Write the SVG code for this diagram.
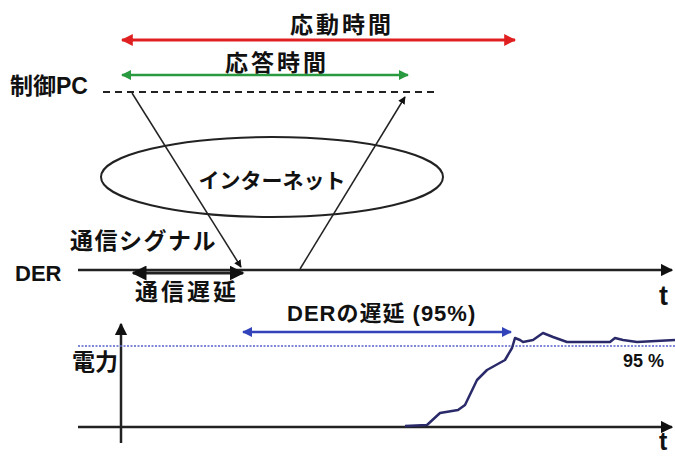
<svg xmlns="http://www.w3.org/2000/svg" width="675" height="457" viewBox="0 0 675 457">
<style>
.t{font-family:"Liberation Sans","Noto Sans CJK JP",sans-serif;font-weight:bold;fill:#111}
.j{font-size:23px;letter-spacing:3px}
.ln{stroke:#222;fill:none}
</style>
<defs>
<marker id="ak" viewBox="0 0 10 10" refX="9" refY="5" markerWidth="5" markerHeight="5" orient="auto-start-reverse"><path d="M0,0L10,5L0,10z" fill="#111"/></marker>
<marker id="ar" viewBox="0 0 10 10" refX="9" refY="5" markerWidth="4" markerHeight="4" orient="auto-start-reverse"><path d="M0,0L10,5L0,10z" fill="#e02020"/></marker>
<marker id="ag" viewBox="0 0 10 10" refX="9" refY="5" markerWidth="4" markerHeight="4" orient="auto-start-reverse"><path d="M0,0L10,5L0,10z" fill="#2a9a40"/></marker>
<marker id="ab" viewBox="0 0 10 10" refX="9" refY="5" markerWidth="4" markerHeight="4" orient="auto-start-reverse"><path d="M0,0L10,5L0,10z" fill="#3344bb"/></marker>
</defs>
<rect width="675" height="457" fill="#fff"/>
<g id="pc">
<text class="t" x="10" y="94" font-size="23">制御PC</text>
<line class="ln" x1="103" y1="92" x2="438" y2="92" stroke-width="2" stroke-dasharray="7,5"/>
</g>
<g id="internet">
<ellipse cx="272" cy="177" rx="171" ry="40" class="ln" stroke-width="2"/>
<text class="t" x="272" y="188" font-size="21" text-anchor="middle">インターネット</text>
</g>
<g id="der">
<text class="t" x="15" y="281" font-size="22">DER</text>
<line class="ln" x1="78" y1="270" x2="672" y2="270" stroke-width="2.5" marker-end="url(#ak)"/>
<text class="t" x="659" y="305" font-size="27" font-weight="normal">t</text>
</g>
<g id="power">
<text class="t" x="72" y="370" font-size="23">電力</text>
<line class="ln" x1="121" y1="443" x2="121" y2="324" stroke-width="2.5" marker-end="url(#ak)"/>
<line class="ln" x1="78" y1="427" x2="672" y2="427" stroke-width="2.5" marker-end="url(#ak)"/>
<text class="t" x="659" y="450" font-size="25" font-weight="normal">t</text>
<line x1="78" y1="346" x2="675" y2="346" stroke="#5560cc" stroke-width="1.5" stroke-dasharray="2,1.5"/>
<text class="t" x="623" y="367" font-size="18">95 %</text>
<path d="M405,426L427,425L440,413L458,410L465,405L477,380L487,370L505,360L512,348L515,338L520,340L523,342L533,340L543,333L553,337L567,342L583,342L610,342L615,338L623,340L637,342L675,340" fill="none" stroke="#2a2a6a" stroke-width="2.5" stroke-linejoin="round"/>
</g>
<g id="connectors">
<line x1="122" y1="40" x2="515" y2="40" stroke="#e02020" stroke-width="3" marker-start="url(#ar)" marker-end="url(#ar)"/>
<text class="t j" x="290" y="33">応動時間</text>
<line x1="122" y1="75" x2="408" y2="75" stroke="#2a9a40" stroke-width="2.5" marker-start="url(#ag)" marker-end="url(#ag)"/>
<text class="t j" x="225" y="71">応答時間</text>
<line class="ln" x1="132" y1="93" x2="241" y2="267" stroke-width="1.5" marker-end="url(#ak)"/>
<line class="ln" x1="300" y1="269" x2="405" y2="97" stroke-width="1.5" marker-end="url(#ak)"/>
<text class="t" x="70" y="249" font-size="23" letter-spacing="1.5">通信シグナル</text>
<line class="ln" x1="133" y1="273" x2="243" y2="273" stroke-width="3" marker-start="url(#ak)" marker-end="url(#ak)"/>
<text class="t j" x="135" y="300">通信遅延</text>
<line x1="243" y1="332" x2="511" y2="332" stroke="#3344bb" stroke-width="2.5" marker-start="url(#ab)" marker-end="url(#ab)"/>
<text class="t" x="287" y="321" font-size="22" letter-spacing="1">DERの遅延 (95%)</text>
</g>
</svg>
